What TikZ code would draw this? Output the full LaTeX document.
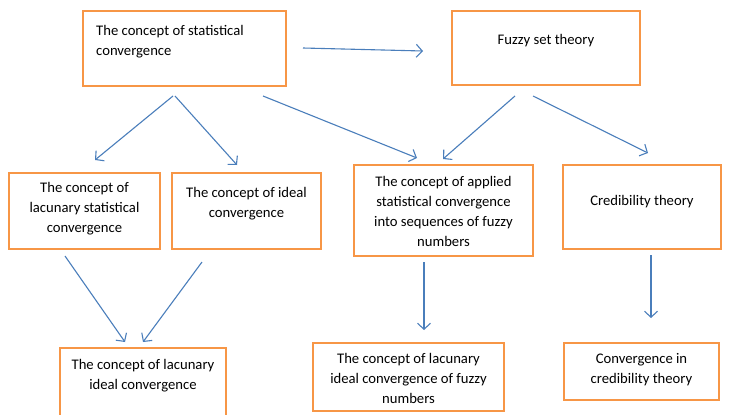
\documentclass[tikz,border=0pt]{standalone}
\usepackage{fontspec}
\setmainfont{Carlito}
\usetikzlibrary{arrows.meta}
\definecolor{boxorange}{HTML}{F79646}
\definecolor{arrowblue}{HTML}{4A7EBB}
\begin{document}
\begin{tikzpicture}[x=1pt,y=-1pt,
  box/.style={draw=boxorange, line width=2.8pt, fill=white, inner sep=0pt, anchor=center},
  txt/.style={font=\fontsize{14.67}{20.3}\selectfont, inner sep=0pt, align=center, anchor=base},
  conn/.style={draw=arrowblue, line width=1.1pt, -{Straight Barb[length=6pt,width=13pt]}}]
\useasboundingbox (0,0) rectangle (729,415);
\fill[white] (0,0) rectangle (729,415);
% boxes
\node[box, minimum width=203pt, minimum height=75pt] (A) at (184.5,48.5) {};
\node[box, minimum width=188pt, minimum height=74pt] (B) at (546,48) {};
\node[box, minimum width=151pt, minimum height=76pt] (C) at (84.5,211) {};
\node[box, minimum width=149pt, minimum height=76pt] (D) at (246.5,211) {};
\node[box, minimum width=179pt, minimum height=91pt] (E) at (443.5,210.5) {};
\node[box, minimum width=158pt, minimum height=84pt] (F) at (642,207) {};
\node[box, minimum width=166pt, minimum height=82pt] (G) at (143,389) {};
\node[box, minimum width=191pt, minimum height=68pt] (H) at (408.5,377) {};
\node[box, minimum width=155pt, minimum height=57pt] (I) at (641.5,371.5) {};
% texts (anchored at the baseline of the last line)
\node[txt, align=left, anchor=base west] (tA) at (96,55.3) {The concept of statistical\\convergence};
\node[txt] (tB) at (546,45) {Fuzzy set theory};
\node[txt] (tC) at (84.5,232.6) {The concept of\\lacunary statistical\\convergence};
\node[txt] (tD) at (246.5,217.3) {The concept of ideal\\convergence};
\node[txt] (tE) at (443.5,246.9) {The concept of applied\\statistical convergence\\into sequences of fuzzy\\numbers};
\node[txt] (tF) at (642,205) {Credibility theory};
\node[txt] (tG) at (143,389.3) {The concept of lacunary\\ideal convergence};
\node[txt] (tH) at (408.5,403.6) {The concept of lacunary\\ideal convergence of fuzzy\\numbers};
\node[txt] (tI) at (641.5,383.3) {Convergence in\\credibility theory};
% connector end points
\coordinate (a1) at (303,48);  \coordinate (b1) at (423,51);
\coordinate (a2) at (173,96);  \coordinate (c1) at (95,160);
\coordinate (a3) at (175,96);  \coordinate (d1) at (237,165);
\coordinate (a4) at (263,96);  \coordinate (e1) at (417,158);
\coordinate (b2) at (515,96);  \coordinate (e2) at (443,159);
\coordinate (b3) at (533,96);  \coordinate (f1) at (648,153);
\coordinate (c2) at (65,256);  \coordinate (g1) at (125,342);
\coordinate (d2) at (202,262); \coordinate (g2) at (143,342);
\coordinate (e3) at (424,262); \coordinate (h1) at (424,330);
\coordinate (f2) at (651,255); \coordinate (i1) at (651,318);
% connectors
\draw[conn] (a1) -- (b1);
\draw[conn] (a2) -- (c1);
\draw[conn] (a3) -- (d1);
\draw[conn] (a4) -- (e1);
\draw[conn] (b2) -- (e2);
\draw[conn] (b3) -- (f1);
\draw[conn] (c2) -- (g1);
\draw[conn] (d2) -- (g2);
\draw[conn] (e3) -- (h1);
\draw[conn] (f2) -- (i1);
\end{tikzpicture}
\end{document}
